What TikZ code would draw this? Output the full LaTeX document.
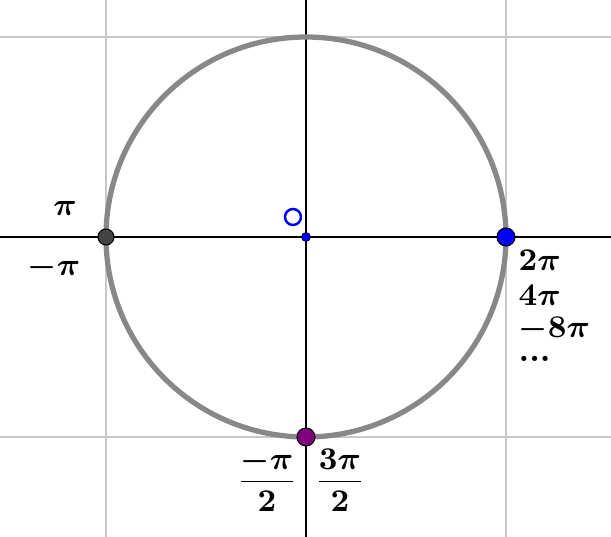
\documentclass[tikz,border=0pt]{standalone}
\usepackage{amsmath,amssymb}
\usetikzlibrary{positioning}
\definecolor{gridgray}{RGB}{200,200,200}
\definecolor{circgray}{RGB}{136,136,136}
\definecolor{ptblue}{RGB}{0,0,255}
\definecolor{ptdark}{RGB}{68,68,68}
\definecolor{ptpurple}{RGB}{128,0,128}

\begin{document}
\begin{tikzpicture}[scale=2,every node/.style={font=\fontsize{9.5}{11}\selectfont\bfseries\boldmath},
    gridline/.style={gridgray,line width=0.35pt},
    axisline/.style={black,line width=0.35pt},
    pt/.style={circle,draw=black,line width=0.3pt,inner sep=0pt,minimum size=0.17cm},
    rlabel/.style={anchor=west,inner sep=0pt}]
      \useasboundingbox (-1.53,-1.5) rectangle (1.525,1.185);
      % Grid
      \foreach \g in {-1,1}{
        \draw[gridline] (\g,-1.5) -- (\g,1.185);
        \draw[gridline] (-1.53,\g) -- (1.525,\g);
      }
      % Axes
      \draw[axisline] (-1.53,0) -- (1.525,0);
      \draw[axisline] (0,-1.5) -- (0,1.185);
      % Unit circle
      \draw[circgray,line width=1.5pt] (0,0) circle (1);
      % Points on the circle
      \node[pt,fill=ptdark,minimum size=0.16cm] (left) at (-1,0) {};
      \node[pt,fill=ptblue,minimum size=0.18cm] (right) at (1,0) {};
      \node[pt,fill=ptpurple,minimum size=0.18cm] (bottom) at (0,-1) {};
      \node[circle,fill=ptblue,draw=black,line width=0.2pt,inner sep=0pt,minimum size=0.09cm] (origin) at (0,0) {};
      \node[circle,draw=ptblue,line width=0.7pt,inner sep=0pt,minimum size=0.16cm] (ring) at (-0.065,0.1) {};
      % Labels
      \node (lpi) at (-1.205,0.145) {$\pi$};
      \node (lmpi) at (-1.26,-0.155) {$-\pi$};
      \node[rlabel] (l2pi) at (1.06,-0.115) {$2\pi$};
      \node[rlabel] (l4pi) at (1.06,-0.29) {$4\pi$};
      \node[rlabel] (lm8pi) at (1.06,-0.465) {$-8\pi$};
      \node[rlabel,anchor=base west] (ldots) at (1.06,-0.625) {...};
      \node (lmhalf) at (-0.195,-1.215) {$\dfrac{-\pi}{2}$};
      \node (l3half) at (0.17,-1.215) {$\dfrac{3\pi}{2}$};
    \end{tikzpicture}
\end{document}
